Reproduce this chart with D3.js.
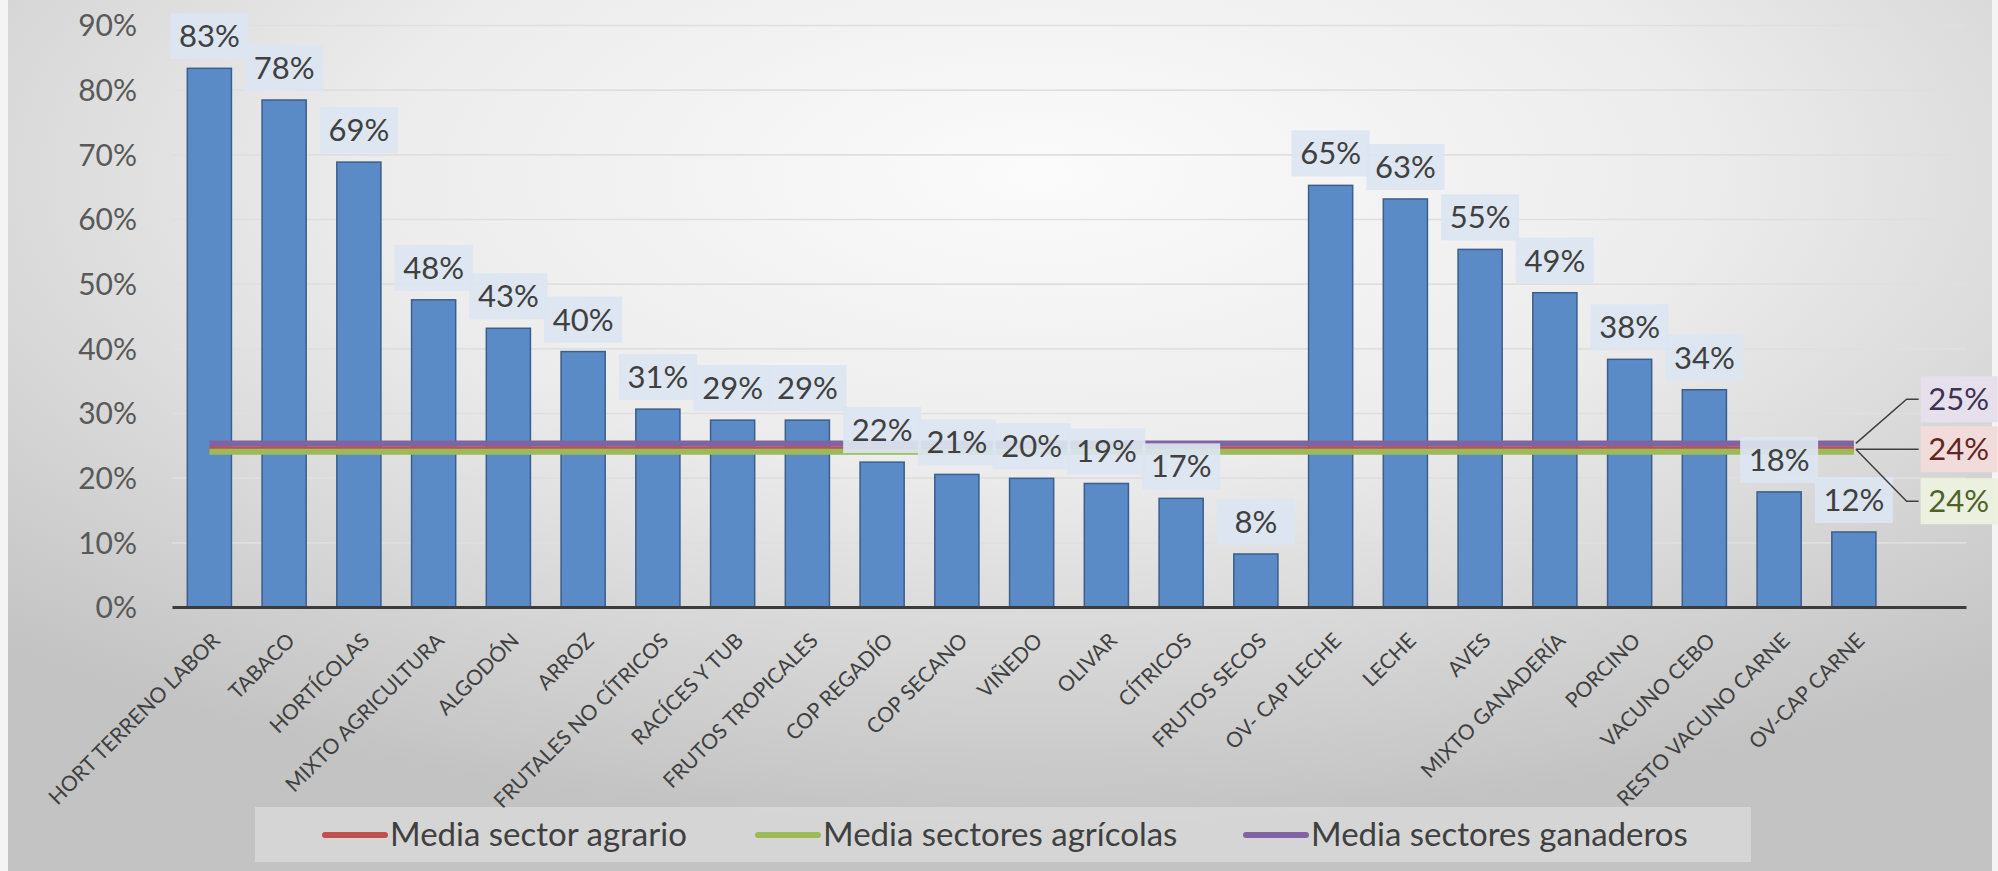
<!DOCTYPE html>
<html>
<head>
<meta charset="utf-8">
<script src="https://cdn.jsdelivr.net/npm/d3@7"></script>
<style>
  html, body { margin: 0; padding: 0; background: #ffffff; }
  svg { display: block; }
  text { font-family: Lato, "Open Sans", sans-serif; }
</style>
</head>
<body>
<svg id="chart" width="1998" height="871"></svg>
<script>
// ---------------- DATA ----------------
const categories = [
  "HORT TERRENO LABOR", "TABACO", "HORTÍCOLAS", "MIXTO AGRICULTURA", "ALGODÓN",
  "ARROZ", "FRUTALES NO CÍTRICOS", "RACÍCES Y TUB", "FRUTOS TROPICALES", "COP REGADÍO",
  "COP SECANO", "VIÑEDO", "OLIVAR", "CÍTRICOS", "FRUTOS SECOS",
  "OV- CAP LECHE", "LECHE", "AVES", "MIXTO GANADERÍA", "PORCINO",
  "VACUNO CEBO", "RESTO VACUNO CARNE", "OV-CAP CARNE"
];
const values = [
  0.833, 0.784, 0.688, 0.475, 0.431,
  0.395, 0.306, 0.289, 0.289, 0.224,
  0.205, 0.199, 0.191, 0.168, 0.082,
  0.652, 0.631, 0.553, 0.486, 0.383,
  0.336, 0.178, 0.116
];
const seriesNames = ["Media sector agrario", "Media sectores agrícolas", "Media sectores ganaderos"];
const seriesValues = [0.244, 0.240, 0.253];
const seriesColors = ["#C0504D", "#9BBB59", "#8064A2"];
const seriesLabelFill = ["#f2dcdb", "#ebf1de", "#e5e0ec"];
const seriesLabelText = ["#632523", "#4f6228", "#3f3151"];
const yTicks = [0, 0.1, 0.2, 0.3, 0.4, 0.5, 0.6, 0.7, 0.8, 0.9];

// ---------------- LAYOUT ----------------
const W = 1998, H = 871;
const plot = { left: 172, right: 1966, top: 25, bottom: 607 };
const svg = d3.select("#chart");

// background gradient
const defs = svg.append("defs");
const grad = defs.append("radialGradient").attr("id", "bg")
  .attr("cx", "0.52").attr("cy", "0.2").attr("r", "0.75").attr("fx", "0.52").attr("fy", "0.2");
grad.append("stop").attr("offset", "0%").attr("stop-color", "#fbfbfb");
grad.append("stop").attr("offset", "45%").attr("stop-color", "#ececec");
grad.append("stop").attr("offset", "100%").attr("stop-color", "#c3c3c3");

svg.append("rect").attr("x", 0).attr("y", 0).attr("width", W).attr("height", H).attr("fill", "#f4f4f4");
svg.append("rect").attr("x", 8).attr("y", 0).attr("width", W - 14).attr("height", H).attr("fill", "url(#bg)");

// scales (one extra empty slot on the right holds the average labels)
const slots = categories.concat(["__avg"]);
const x = d3.scaleBand().domain(slots).range([plot.left, plot.right])
  .paddingInner(0.41).paddingOuter(0.205);
const y = d3.scaleLinear().domain([0, 0.9]).range([plot.bottom, plot.top]);
const cx = c => x(c) + x.bandwidth() / 2;

// gridlines
svg.append("g").attr("class", "grid")
  .attr("transform", `translate(${plot.left},0)`)
  .call(d3.axisLeft(y).tickValues(yTicks.slice(1)).tickSize(-(plot.right - plot.left)).tickFormat(""))
  .call(g => g.select(".domain").remove())
  .call(g => g.selectAll("line").attr("stroke", "#dfdfdf").attr("stroke-width", 1.6));

// y axis labels
svg.append("g").attr("class", "yaxis")
  .attr("transform", `translate(${plot.left},0)`)
  .call(d3.axisLeft(y).tickValues(yTicks).tickSize(0).tickPadding(35).tickFormat(d3.format(".0%")))
  .call(g => g.select(".domain").remove())
  .call(g => g.selectAll("text").attr("fill", "#595959").style("font-size", "30px")
      .style("font-family", "Lato, sans-serif").attr("dy", "0.36em"));

// bars
svg.append("g").selectAll("rect").data(categories).join("rect")
  .attr("x", d => x(d))
  .attr("y", (d, i) => y(values[i]))
  .attr("width", x.bandwidth())
  .attr("height", (d, i) => y(0) - y(values[i]))
  .attr("fill", "#5b8bc6")
  .attr("stroke", "#3b5e8c")
  .attr("stroke-width", 1.5);

// x axis line
svg.append("g").attr("transform", `translate(0,${plot.bottom})`)
  .call(d3.axisBottom(x).tickSize(0).tickFormat(""))
  .call(g => g.select(".domain").attr("stroke", "#3c3c3c").attr("stroke-width", 3));

// x labels
svg.append("g").selectAll("text").data(categories).join("text")
  .attr("transform", d => `translate(${cx(d) + 12},${plot.bottom + 35}) rotate(-45)`)
  .attr("text-anchor", "end")
  .attr("fill", "#404040")
  .style("font-size", "21px")
  .text(d => d);

// average lines
const line = d3.line().x(d => cx(d.c)).y(d => y(d.v));
seriesValues.forEach((v, s) => {
  const pts = [{ c: categories[0], v }, { c: categories[categories.length - 1], v }];
  svg.append("path").datum(pts).attr("d", line)
    .attr("fill", "none").attr("stroke", seriesColors[s]).attr("stroke-width", 6);
});

// data labels for bars
const lbl = svg.append("g");
categories.forEach((c, i) => {
  const top = y(values[i]);
  lbl.append("rect")
    .attr("x", cx(c) - 39).attr("y", top - 55)
    .attr("width", 78).attr("height", 46)
    .attr("fill", "#dbe5f1").attr("fill-opacity", 0.92);
});
categories.forEach((c, i) => {
  const top = y(values[i]);
  lbl.append("text")
    .attr("x", cx(c)).attr("y", top - 21)
    .attr("text-anchor", "middle").attr("fill", "#404040")
    .style("font-size", "31px")
    .text(d3.format(".0%")(values[i]));
});

// average labels on the right (with leader lines)
const lastC = categories[categories.length - 1];
const endX = cx(lastC);
const labelCX = cx("__avg") + 30;
const labelOffsets = [0, 52, -50]; // agrario, agrícolas, ganaderos relative to agrario line
const leaderStartY = [y(seriesValues[0]), y(seriesValues[0]), y(seriesValues[2])];
seriesValues.forEach((v, s) => {
  const ly = y(seriesValues[0]) + labelOffsets[s];
  svg.append("path")
    .attr("d", `M${endX + 2},${leaderStartY[s]} L${labelCX - 52},${ly} L${labelCX - 40},${ly}`)
    .attr("fill", "none").attr("stroke", "#404040").attr("stroke-width", 1.5);
  svg.append("rect")
    .attr("x", labelCX - 38).attr("y", ly - 23).attr("width", 77).attr("height", 46)
    .attr("fill", seriesLabelFill[s]);
  svg.append("text")
    .attr("x", labelCX).attr("y", ly + 11)
    .attr("text-anchor", "middle").attr("fill", seriesLabelText[s])
    .style("font-size", "31px")
    .text(d3.format(".0%")(v));
});

// legend
const legend = svg.append("g");
legend.append("rect").attr("x", 255).attr("y", 807).attr("width", 1496).attr("height", 55)
  .attr("fill", "#ffffff").attr("fill-opacity", 0.3);
const legendX = [325, 758, 1246];
seriesNames.forEach((n, s) => {
  legend.append("line")
    .attr("x1", legendX[s]).attr("x2", legendX[s] + 60)
    .attr("y1", 835).attr("y2", 835)
    .attr("stroke", seriesColors[s]).attr("stroke-width", 6).attr("stroke-linecap", "round");
  legend.append("text")
    .attr("x", legendX[s] + 65).attr("y", 846)
    .attr("fill", "#404040").style("font-size", "33px")
    .text(n);
});
</script>
</body>
</html>
